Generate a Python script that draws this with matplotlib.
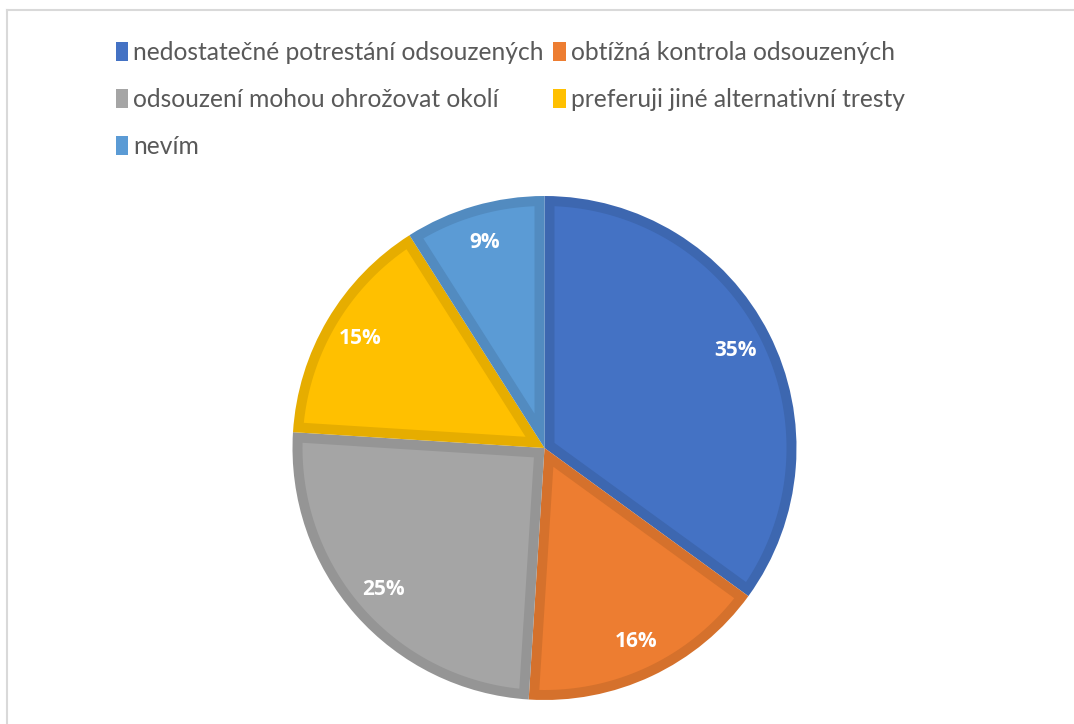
import numpy as np
import matplotlib
matplotlib.use("Agg")
import matplotlib.pyplot as plt
from matplotlib.patches import Patch
from matplotlib.colors import to_rgb

labels = [
    "nedostatečné potrestání odsouzených",
    "obtížná kontrola odsouzených",
    "odsouzení mohou ohrožovat okolí",
    "preferuji jiné alternativní tresty",
    "nevím",
]
values = [35, 16, 25, 15, 9]
colors = ["#4472C4", "#ED7D31", "#A5A5A5", "#FFC000", "#5B9BD5"]

plt.rcParams["font.family"] = ["Lato", "DejaVu Sans"]

W, H = 1074, 724
fig = plt.figure(figsize=(W / 100, H / 100), dpi=100)
ax = fig.add_axes([0, 0, 1, 1])


def darker(c, f=0.9):
    r, g, b = to_rgb(c)
    return (r * f, g * f, b * f)


def inset_wedge(w, d):
    # polygon of the wedge shrunk inward by d (data units)
    cx, cy = w.center
    r = w.r
    t1, t2 = np.radians(w.theta1), np.radians(w.theta2)
    a = (t2 - t1) / 2
    R = r - d
    corner = (cx + d / np.sin(a) * np.cos(t1 + a), cy + d / np.sin(a) * np.sin(t1 + a))
    dt = np.arctan2(d, np.sqrt(R ** 2 - d ** 2))
    th = np.linspace(t1 + dt, t2 - dt, 200)
    xs = np.concatenate([[corner[0]], cx + R * np.cos(th)])
    ys = np.concatenate([[corner[1]], cy + R * np.sin(th)])
    return xs, ys


wedges, texts, autotexts = ax.pie(
    values, colors=[darker(c) for c in colors], startangle=90, counterclock=False,
    center=(544.5, H - 448), radius=252, frame=True,
    autopct="%d%%", pctdistance=0.85,
    textprops=dict(color="white", fontsize=15, fontweight="bold",
                   family="Open Sans", zorder=5),
)
# Excel-like inner border: darker wedge with the lighter fill inset
for w, c in zip(wedges, colors):
    xs, ys = inset_wedge(w, 10)
    ax.fill(xs, ys, color=c, lw=0, zorder=w.get_zorder() + 0.5)

ax.set_xlim(0, W)
ax.set_ylim(0, H)
ax.axis("off")

handles = [Patch(facecolor=c, edgecolor="none") for c in colors]
order = [0, 2, 4, 1, 3]
fig.legend([handles[i] for i in order], [labels[i] for i in order],
           ncol=2, loc="upper left", bbox_to_anchor=(106 / W, 1 - 31 / H),
           frameon=False, fontsize=17.7, labelcolor="#595959",
           handlelength=0.5, handleheight=0.8, handletextpad=0.2,
           columnspacing=0.4, labelspacing=0.98, borderaxespad=0)

# chart frame
ax.plot([7, W], [H - 10, H - 10], color="#D9D9D9", lw=1.5, clip_on=False)
ax.plot([7, 7], [H - 10, 0], color="#D9D9D9", lw=1.5, clip_on=False)

fig.savefig("out.png", dpi=100, facecolor="white")
